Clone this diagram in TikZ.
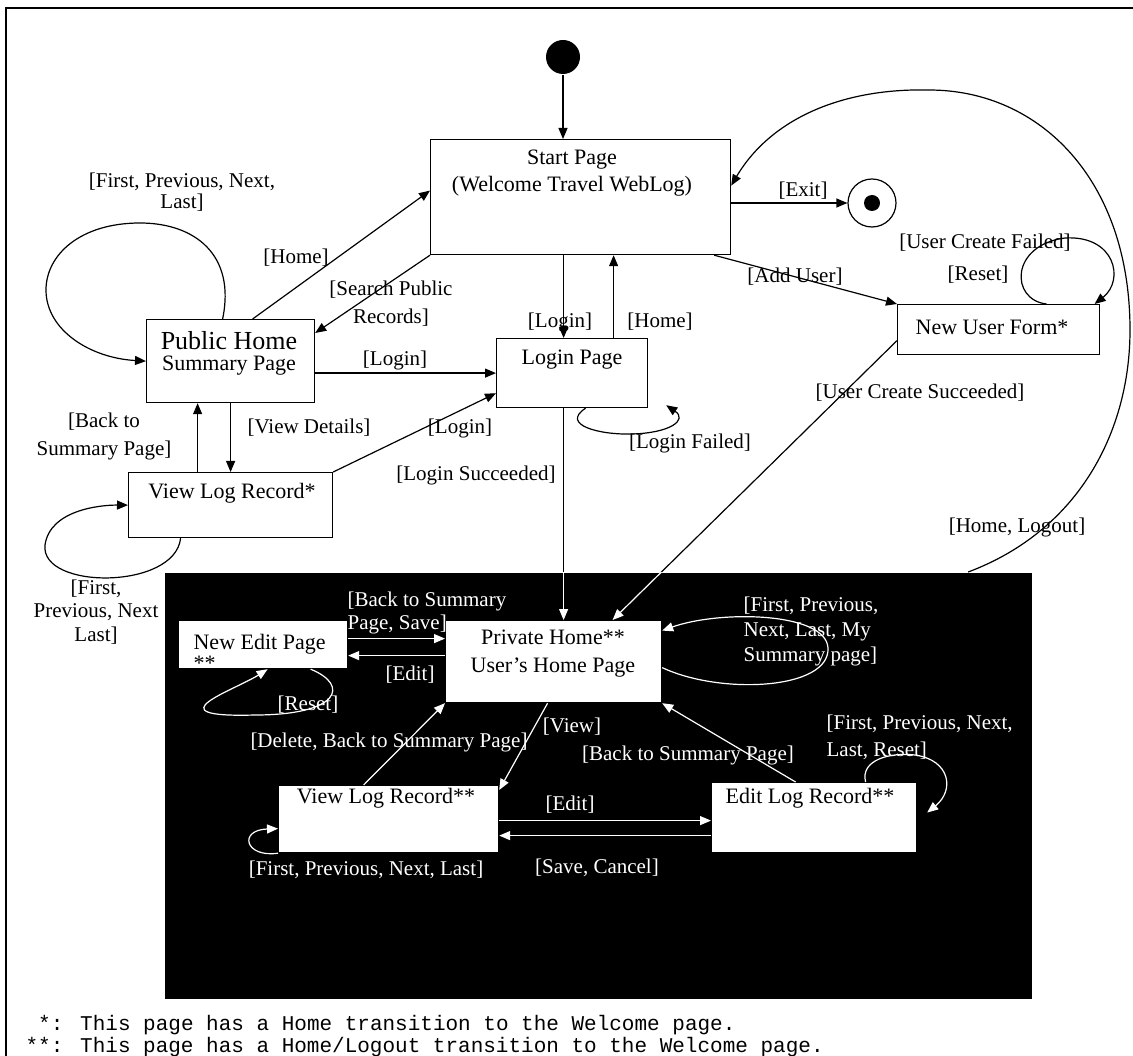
\documentclass[tikz,border=0pt]{standalone}
\usepackage{fontspec}
\setmainfont{Liberation Serif}
\newfontfamily\notefont{Liberation Mono}
\usetikzlibrary{positioning,arrows.meta,calc}

\begin{document}
\begin{tikzpicture}[x=1pt, y=-1pt, line width=1.2pt,
        >={Triangle[length=11pt,width=9pt]},
        every node/.style={font=\fontsize{21}{25}\selectfont, inner sep=0pt},
        pagebox/.style={draw, fill=white, anchor=north west},
        boxtext/.style={align=center, font=\fontsize{22}{27}\selectfont},
        guard/.style={align=center},
        inguard/.style={align=center, text=white},
        inlink/.style={draw=white, ->}]
        \useasboundingbox (0,0) rectangle (1133,1056);
        % frame
        \draw (6,1056) |- (1133,8);
        % logged-in region
        \node[fill=black, anchor=north west, minimum width=867pt, minimum height=426pt]
              (private) at (164,572) {};
        % states
        \node[pagebox, minimum width=300pt, minimum height=115pt] (start) at (430,139) {};
        \node[pagebox, minimum width=168pt, minimum height=83pt] (pubhome) at (146,319) {};
        \node[pagebox, minimum width=151pt, minimum height=69pt] (login) at (496,338) {};
        \node[pagebox, minimum width=202pt, minimum height=50pt] (newuser) at (897,304) {};
        \node[pagebox, minimum width=204pt, minimum height=65pt] (viewpub) at (128,472) {};
        \node[pagebox, minimum width=169pt, minimum height=48pt] (newedit) at (178,620) {};
        \node[pagebox, minimum width=216pt, minimum height=82pt] (privhome) at (445,620) {};
        \node[pagebox, minimum width=220pt, minimum height=67pt] (viewpriv) at (278,785) {};
        \node[pagebox, minimum width=205pt, minimum height=70pt] (editlog) at (711,782) {};
        \node[circle, fill=black, minimum size=34pt] (init) at (563,57) {};
        \node[circle, draw, minimum size=48pt] (final) at (872,203) {};
        \node[circle, fill=black, minimum size=16pt] (finaldot) at (final) {};
        % state names
        \node[boxtext] (starttext) at (572,173) {Start Page\\(Welcome Travel WebLog)};
        \node[boxtext, font=\fontsize{22}{21}\selectfont] (pubtext) at (229,353)
              {{\fontsize{26}{21}\selectfont Public Home}\\Summary Page};
        \node[boxtext] (logintext) at (572,360) {Login Page};
        \node[boxtext] (newusertext) at (992,327) {New User Form*};
        \node[boxtext] (viewpubtext) at (232,493) {View Log Record*};
        \node[boxtext, align=left, anchor=west, font=\fontsize{22}{21}\selectfont]
              (newedittext) at (193,652) {New Edit Page\\**};
        \node[boxtext, font=\fontsize{22}{28}\selectfont] (privtext) at (553,654)
              {Private Home**\\User’s Home Page};
        \node[boxtext] (viewprivtext) at (386,798) {View Log Record**};
        \node[boxtext] (edittext) at (810,798) {Edit Log Record**};

        % transitions outside
        \draw[->] (init) -- (init |- start.north);
        \draw[->] (start.east |- final) -- (final);
        \coordinate (loginin) at ([xshift=-17pt]start.south);
        \draw[->] (loginin) -- (loginin |- login.north);
        \coordinate (homeout) at ([xshift=41.5pt]login.north);
        \draw[->] (homeout) -- (homeout |- start.south);
        \coordinate (pubup) at ([xshift=22pt]pubhome.north);
        \draw[->] (pubup) -- ([yshift=6.5pt]start.west);
        \draw[->] (start.south west) -- ([yshift=-14pt]pubhome.north east);
        \draw[->] (pubhome.east |- login.west) -- (login.west);
        \draw[->] (pubhome.south) -- (viewpub.north);
        \coordinate (backup) at ([xshift=-33pt]viewpub.north);
        \draw[->] (backup) -- (backup |- pubhome.south);
        \draw[->] (viewpub.north east) -- ([yshift=15pt]login.south west);
        % loops outside
        \draw[->] ([xshift=-8pt]pubhome.north) .. controls (236,255) and (195,223) .. (140,223)
              .. controls (80,223) and (46,255) .. (46,290)
              .. controls (46,330) and (90,358) .. (pubhome.west);
        \draw[->] ([xshift=-50pt]viewpub.south) .. controls (175,590) and (40,590) .. (45,545)
              .. controls (50,510) and (100,505) .. (viewpub.west);
        \draw[->] ([xshift=13.5pt]login.south) .. controls (560,425) and (600,435) .. (632,434)
              .. controls (670,433) and (688,420) .. ([xshift=18pt,yshift=3pt]login.south east);
        \draw[->] ([xshift=-17pt]start.south east) -- (newuser.north west);
        \draw[->] ([xshift=48pt]newuser.north) .. controls (1010,300) and (1010,245) .. (1065,238)
              .. controls (1115,235) and (1125,280) .. ([xshift=96pt]newuser.north);
        % into the private home
        \coordinate (okfrom) at ([xshift=-8.5pt]login.south);
        \draw[->] (okfrom) -- (okfrom |- privhome.north);
        \coordinate (newfrom) at ([yshift=-11pt]newuser.west);
        \coordinate (newto) at ([xshift=59pt]privhome.north);
        \draw[->] (newfrom) -- (newto);
        \draw[->] ([xshift=-64pt]private.north east) .. controls (1080,530) and (1130,430) .. (1130,330)
              .. controls (1130,180) and (1040,90) .. (929,90)
              .. controls (840,88) and (770,120) .. ([yshift=11.5pt]start.east);

        % transitions inside the region
        \begin{scope}
          \clip (private.south west) rectangle (private.north east);
          \draw[inlink] (okfrom) -- (okfrom |- privhome.north);
          \draw[inlink] (newfrom) -- (newto);
        \end{scope}
        \coordinate (saveend) at ([yshift=23pt]privhome.west);
        \draw[inlink] (saveend -| newedit.east) -- (saveend);
        \coordinate (editend) at ([yshift=-11pt]newedit.east);
        \draw[inlink] (editend -| privhome.west) -- (editend);
        \coordinate (delfrom) at ([xshift=-25pt]viewpriv.north);
        \draw[inlink] (delfrom) -- (privhome.south west);
        \draw[inlink] ([xshift=-6pt]privhome.south) -- ([yshift=-5pt]viewpriv.north east);
        \draw[inlink] ([xshift=-18.5pt]editlog.north) -- (privhome.south east);
        \coordinate (editto) at ([yshift=-3pt]editlog.west);
        \draw[inlink] (editto -| viewpriv.east) -- (editto);
        \coordinate (saveto) at ([yshift=-16.5pt]viewpriv.east);
        \draw[inlink] (saveto -| editlog.west) -- (saveto);
        % loops inside
        \draw[inlink] ([xshift=47.5pt]newedit.south) .. controls (350,685) and (340,715) .. (255,715)
              .. controls (150,718) and (235,690) .. ([xshift=4.5pt]newedit.south);
        \draw[inlink] ([yshift=-6pt]privhome.east) .. controls (720,695) and (830,690) .. (828,648)
              .. controls (826,612) and (720,610) .. ([yshift=31pt]privhome.east);
        \draw[inlink] ([xshift=51.5pt]editlog.north) .. controls (860,760) and (890,752) .. (915,755)
              .. controls (950,760) and (955,790) .. ([xshift=10pt,yshift=5pt]editlog.east);
        \draw[inlink] (viewpriv.south west) .. controls (245,858) and (238,830) .. ([yshift=-9.5pt]viewpriv.west);

        % guards outside
        \node[guard, font=\fontsize{21}{21}\selectfont] (firstpub) at (182,192) {[First, Previous, Next,\\Last]};
        \node[guard] (homeup) at (296,258) {[Home]};
        \node[guard, font=\fontsize{21}{28}\selectfont] (search) at (391,304) {[Search Public\\Records]};
        \node[guard] (loginmid) at (395,360) {[Login]};
        \node[guard] (logindown) at (560,322) {[Login]};
        \node[guard] (homedown) at (660,322) {[Home]};
        \node[guard] (exit) at (803,191) {[Exit]};
        \node[guard] (adduser) at (795,277) {[Add User]};
        \node[guard] (createfail) at (985,243) {[User Create Failed]};
        \node[guard] (reset) at (978,275) {[Reset]};
        \node[guard] (createok) at (920,393) {[User Create Succeeded]};
        \node[guard] (loginfail) at (690,443) {[Login Failed]};
        \node[guard, font=\fontsize{21}{28}\selectfont] (backpub) at (104,436) {[Back to\\Summary Page]};
        \node[guard] (details) at (309,428) {[View Details]};
        \node[guard] (loginlow) at (460,428) {[Login]};
        \node[guard] (loginok) at (476,475) {[Login Succeeded]};
        \node[guard, font=\fontsize{21}{23.5}\selectfont] (firstview) at (96,612) {[First,\\Previous, Next\\Last]};
        \node[guard] (logout) at (1017,527) {[Home, Logout]};
        % guards inside
        \node[inguard, align=left, anchor=west, font=\fontsize{21}{23}\selectfont]
              (backsave) at (347,613) {[Back to Summary\\Page, Save]};
        \node[inguard] (editnew) at (410,675) {[Edit]};
        \node[inguard] (resetnew) at (308,705) {[Reset]};
        \node[inguard] (delete) at (389,742) {[Delete, Back to Summary Page]};
        \node[inguard] (view) at (572,727) {[View]};
        \node[inguard] (backedit) at (688,755) {[Back to Summary Page]};
        \node[inguard, align=left, anchor=west] (firstpriv) at (743,631)
              {[First, Previous,\\Next, Last, My\\Summary page]};
        \node[inguard, align=left, anchor=west, font=\fontsize{21}{27}\selectfont]
              (firstedit) at (826,737) {[First, Previous, Next,\\Last, Reset]};
        \node[inguard] (editview) at (570,805) {[Edit]};
        \node[inguard] (savecancel) at (597,868) {[Save, Cancel]};
        \node[inguard] (firstviewpriv) at (366,870) {[First, Previous, Next, Last]};

        % footnotes
        \node[anchor=west, align=left, font=\notefont\fontsize{21}{22}\selectfont] (notes) at (25,1036)
              {\hphantom{*}*: This page has a Home transition to the Welcome page.\\
               **: This page has a Home/Logout transition to the Welcome page.};
      \end{tikzpicture}
\end{document}
